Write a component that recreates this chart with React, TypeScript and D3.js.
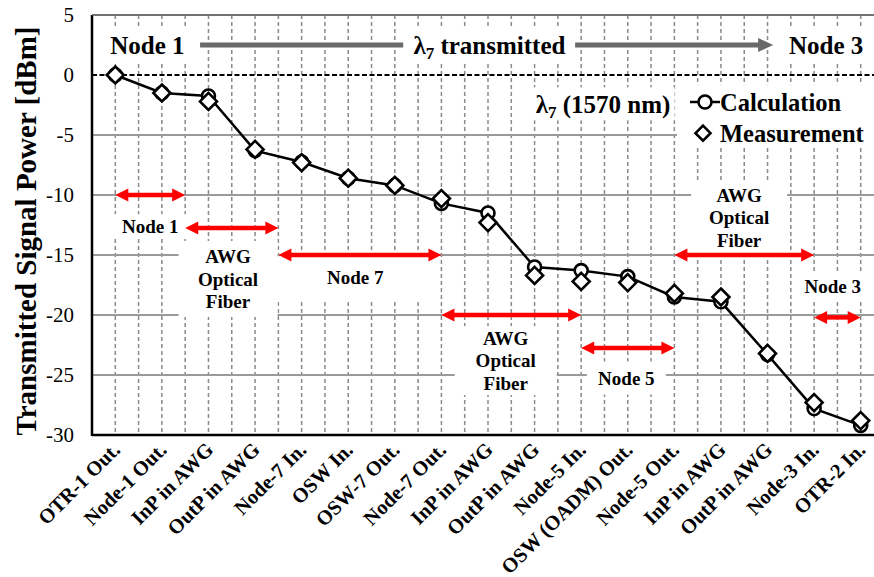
import React, { useEffect, useRef } from "react";
import * as d3 from "d3";

const categories = [
  "OTR-1 Out.", "Node-1 Out.", "InP in AWG", "OutP in AWG", "Node-7 In.", "OSW In.",
  "OSW-7 Out.", "Node-7 Out.", "InP in AWG", "OutP in AWG", "Node-5 In.", "OSW (OADM) Out.",
  "Node-5 Out.", "InP in AWG", "OutP in AWG", "Node-3 In.", "OTR-2 In.",
];
const calculation = [0, -1.5, -1.75, -6.3, -7.25, -8.6, -9.2, -10.7, -11.5, -16.0, -16.3, -16.8, -18.5, -18.9, -23.3, -27.8, -29.2];
const measurement = [0, -1.5, -2.2, -6.2, -7.3, -8.6, -9.2, -10.3, -12.3, -16.7, -17.2, -17.3, -18.2, -18.5, -23.2, -27.3, -28.8];
const yTicks = [5, 0, -5, -10, -15, -20, -25, -30];
const gridValues = [5, -5, -10, -15, -20, -25];

// Section spans (category index from/to, value level) and labels
const spanFrom = [0, 1.5, 3.5, 7, 10, 12, 15];
const spanTo = [1.5, 3.5, 7, 10, 12, 15, 16];
const spanLevel = [-10, -12.75, -15, -20, -22.75, -15, -20.2];
const spanLabels = [["Node 1"], ["AWG", "Optical", "Fiber"], ["Node 7"], ["AWG", "Optical", "Fiber"], ["Node 5"], ["AWG", "Optical", "Fiber"], ["Node 3"]];
const labelX = [0.75, 2.42, 5.15, 8.38, 10.97, 13.39, 15.4];
const labelY = [-12.6, -17.0, -16.9, -23.8, -25.25, -11.9, -17.6];
const boxW = [86, 99, 168, 102, 79, 96, 66];
const boxH = [24, 76, 43, 69, 33, 75, 30];

const W = 874, H = 577;
const FONT = "Liberation Serif, DejaVu Serif, Times New Roman, serif";

export default function App() {
  const ref = useRef<SVGSVGElement>(null);
  useEffect(() => {
    const svg = d3.select(ref.current);
    svg.selectAll("*").remove();
    const left = 92, right = 884, top = 15, bottom = 435;
    const idx = categories.map((_, i) => i);
    const x = d3.scalePoint<number>().domain(idx).range([left, right]).padding(0.5);
    const xi = d3.scaleLinear().domain([-0.5, categories.length - 0.5]).range([left, right]);
    const y = d3.scaleLinear().domain([-30, 5]).range([bottom, top]);

    const g = svg.append("g").style("font-family", FONT);
    // vertical dashed grid
    const vlines = d3.range(0, categories.length, 0.5);
    g.selectAll(".vg").data(vlines).enter().append("line")
      .attr("x1", (d) => xi(d)).attr("x2", (d) => xi(d))
      .attr("y1", top).attr("y2", bottom)
      .attr("stroke", "#8a8a8a").attr("stroke-width", 1.5).attr("stroke-dasharray", "4 3");
    // horizontal grid
    g.selectAll(".hg").data(gridValues).enter().append("line")
      .attr("x1", left).attr("x2", right).attr("y1", (d) => y(d)).attr("y2", (d) => y(d))
      .attr("stroke", "#9a9a9a").attr("stroke-width", 1.8);
    g.append("line").attr("x1", left).attr("x2", right).attr("y1", y(0)).attr("y2", y(0))
      .attr("stroke", "#000").attr("stroke-width", 2.2).attr("stroke-dasharray", "5 2.5");

    // white boxes
    const white = (cx: number, cy: number, w: number, h: number) =>
      g.append("rect").attr("x", cx - w / 2).attr("y", cy - h / 2).attr("width", w).attr("height", h).attr("fill", "#fff");

    // top band
    const topY = y(2.5);
    white(xi(0.69), topY, 86, 36);
    white(xi(8.03), topY, 170, 36);
    white(xi(15.26), topY, 86, 36);
    // lambda label box and legend box
    white(xi(10.47), y(-2.4), 143, 33);
    g.append("rect").attr("x", 677).attr("y", y(-0.85)).attr("width", 210).attr("height", 60).attr("fill", "#fff");

    spanLabels.forEach((lines, k) => {
      white(xi(labelX[k]), y(labelY[k]), boxW[k], boxH[k]);
    });

    const bold = (sel: any, size: number) => sel.style("font-family", FONT).attr("font-weight", "bold").attr("font-size", size).attr("fill", "#000");

    // top band texts
    bold(g.append("text").attr("x", xi(0.69)).attr("y", topY).attr("text-anchor", "middle").attr("dominant-baseline", "central"), 25).text("Node 1");
    bold(g.append("text").attr("x", xi(15.26)).attr("y", topY).attr("text-anchor", "middle").attr("dominant-baseline", "central"), 25).text("Node 3");
    const lt = bold(g.append("text").attr("x", xi(8.03)).attr("y", topY + 9).attr("text-anchor", "middle"), 25);
    lt.append("tspan").text("λ");
    lt.append("tspan").attr("font-size", 17).attr("dy", 5).text("7");
    lt.append("tspan").attr("dy", -5).text(" transmitted");
    // gray arrows
    g.append("line").attr("x1", xi(1.82)).attr("x2", xi(6.18)).attr("y1", topY).attr("y2", topY)
      .attr("stroke", "#696969").attr("stroke-width", 5);
    const ax2 = xi(14.12);
    g.append("line").attr("x1", xi(9.87)).attr("x2", ax2 - 12).attr("y1", topY).attr("y2", topY)
      .attr("stroke", "#696969").attr("stroke-width", 5);
    g.append("path").attr("d", `M${ax2},${topY} L${ax2 - 15},${topY - 7} L${ax2 - 15},${topY + 7} Z`).attr("fill", "#696969");

    // lambda (1570 nm)
    const l2 = bold(g.append("text").attr("x", xi(10.47)).attr("y", y(-2.4) + 9).attr("text-anchor", "middle"), 25);
    l2.append("tspan").text("λ");
    l2.append("tspan").attr("font-size", 17).attr("dy", 5).text("7");
    l2.append("tspan").attr("dy", -5).text(" (1570 nm)");

    // red span arrows
    spanFrom.forEach((f, k) => {
      const x1 = xi(f), x2 = xi(spanTo[k]), yy = y(spanLevel[k]);
      const hl = 13, hw = 6.5;
      g.append("line").attr("x1", x1 + hl - 2).attr("x2", x2 - hl + 2).attr("y1", yy).attr("y2", yy)
        .attr("stroke", "#ff0000").attr("stroke-width", 4.5);
      g.append("path").attr("d", `M${x1},${yy} L${x1 + hl},${yy - hw} L${x1 + hl},${yy + hw} Z`).attr("fill", "#ff0000");
      g.append("path").attr("d", `M${x2},${yy} L${x2 - hl},${yy - hw} L${x2 - hl},${yy + hw} Z`).attr("fill", "#ff0000");
    });
    // span labels
    spanLabels.forEach((lines, k) => {
      const cy = y(labelY[k]);
      const lh = 22.5;
      const t = bold(g.append("text").attr("text-anchor", "middle"), 19);
      lines.forEach((ln, j) => {
        t.append("tspan").attr("x", xi(labelX[k])).attr("y", cy + (j - (lines.length - 1) / 2) * lh + 6.5).text(ln);
      });
    });

    // data line
    const line = d3.line<number>().x((_, i) => x(i)!).y((d) => y(d));
    g.append("path").datum(calculation).attr("d", line).attr("fill", "none").attr("stroke", "#000").attr("stroke-width", 2.5);
    g.selectAll(".c").data(calculation).enter().append("circle")
      .attr("cx", (_, i) => x(i)!).attr("cy", (d) => y(d)).attr("r", 6.5)
      .attr("fill", "#fff").attr("stroke", "#000").attr("stroke-width", 2.6);
    const diamond = (cx: number, cy: number, r: number) => `M${cx},${cy - r} L${cx + r},${cy} L${cx},${cy + r} L${cx - r},${cy} Z`;
    g.selectAll(".m").data(measurement).enter().append("path")
      .attr("d", (d, i) => diamond(x(i)!, y(d), 8.5))
      .attr("fill", "#fff").attr("stroke", "#000").attr("stroke-width", 2.6);

    // legend
    const lx = 705, ly1 = y(-2.25), ly2 = y(-4.85);
    g.append("line").attr("x1", lx - 15).attr("x2", lx + 15).attr("y1", ly1).attr("y2", ly1).attr("stroke", "#000").attr("stroke-width", 2.5);
    g.append("circle").attr("cx", lx).attr("cy", ly1).attr("r", 6.5).attr("fill", "#fff").attr("stroke", "#000").attr("stroke-width", 2.6);
    g.append("path").attr("d", diamond(lx - 2, ly2, 7.5)).attr("fill", "#fff").attr("stroke", "#000").attr("stroke-width", 2.6);
    bold(g.append("text").attr("x", lx + 15).attr("y", ly1).attr("dominant-baseline", "central"), 24.5).text("Calculation");
    bold(g.append("text").attr("x", lx + 15).attr("y", ly2).attr("dominant-baseline", "central"), 24.5).text("Measurement");

    // axes
    g.append("line").attr("x1", left).attr("x2", left).attr("y1", top).attr("y2", bottom + 1).attr("stroke", "#000").attr("stroke-width", 2.5);
    g.append("line").attr("x1", left).attr("x2", right).attr("y1", bottom).attr("y2", bottom).attr("stroke", "#000").attr("stroke-width", 2.5);
    g.append("line").attr("x1", left).attr("x2", right).attr("y1", top).attr("y2", top).attr("stroke", "#666").attr("stroke-width", 1.5);

    g.selectAll(".yt").data(yTicks).enter().append("text")
      .attr("x", 74).attr("y", (d) => y(d)).attr("text-anchor", "end").attr("dominant-baseline", "central")
      .style("font-family", FONT).attr("font-size", 21).attr("fill", "#000").text((d) => String(d));

    g.selectAll(".xt").data(categories).enter().append("text")
      .attr("transform", (_, i) => `translate(${x(i)! + 6},${bottom + 16}) rotate(-45)`)
      .attr("text-anchor", "end").style("font-family", FONT).attr("font-weight", "bold").attr("font-size", 20.5)
      .attr("fill", "#000").text((d) => d);

    bold(g.append("text").attr("transform", `translate(36,${(top + bottom) / 2 + 6}) rotate(-90)`).attr("text-anchor", "middle"), 29)
      .text("Transmitted Signal Power [dBm]");
  }, []);
  return (
    <div style={{ position: "absolute", left: 0, top: 0, width: W, height: H, overflow: "hidden", background: "#fff" }}>
      <svg ref={ref} width={W} height={H} style={{ display: "block" }} />
    </div>
  );
}
